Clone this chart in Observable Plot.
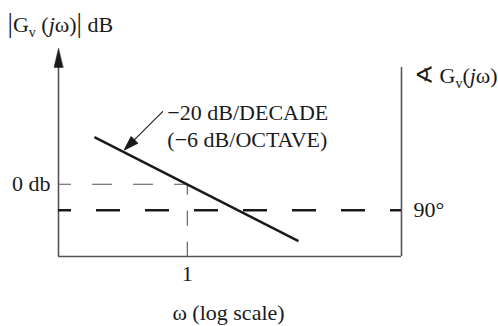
<!DOCTYPE html>
<html><head><meta charset="utf-8">
<script src="https://cdn.jsdelivr.net/npm/d3@7"></script>
<script src="https://cdn.jsdelivr.net/npm/@observablehq/plot@0.6"></script>
<style>html,body{margin:0;padding:0;background:#fff;}</style>
</head><body><div id="chart"></div>
<script>
// ---- data ----
const omegaDomain = [0.1, 46];          // ω extent of the frame (log scale)
const dbDomain = [-22, 41.4];           // |Gv| dB extent of the frame
const slopeOmega = [0.19, 7.3];         // asymptote end points, ω
const slopeDb = [14.4, -17.3];          // asymptote end points, dB
const cornerOmega = 1;                  // ω = 1 marker
const zeroDb = 0;                       // 0 db level
const phaseLineDeg = 90;                // phase line
const phaseDomain = [0, 90];            // phase (deg) placed on the dB extent
const phaseOnDb = [-22, -7.9];
const rightAxisTopDb = 35.6;
const leftAxisTopDb = 41.4;
const annotationTipOmega = 0.325;
const annotationTipDb = 10.5;
const annotationLines = ["\u221220 dB/DECADE", "(\u22126 dB/OCTAVE)"];
const annotationOmega = 0.70;
const annotationDb = [21.9, 13.4];
const xTickValues = [1];
const xTickLabels = ["1"];
const yTickLabel = "0 db";
const phaseTickLabel = "90\u00b0";
const xLabel = "\u03c9 (log scale)";
const magLabel = "|Gv (j\u03c9)| dB";
const phaseLabel = "\u2222 Gv(j\u03c9)";

const phaseToDb = d3.scaleLinear(phaseDomain, phaseOnDb);
const INK = "#1a1a1a";
const AXIS = "#555";

const triangle = {
  draw(ctx, l, r) {
    ctx.moveTo(0, -l);
    ctx.lineTo(-r, 0);
    ctx.lineTo(r, 0);
    ctx.closePath();
  }
};
const filledArrow = {
  draw(ctx, l, r) {
    const h = 14;
    ctx.moveTo(0, 0);
    ctx.lineTo(0, -l + h);
    ctx.moveTo(0, -l);
    ctx.lineTo(-r, -l + h);
    ctx.lineTo(r, -l + h);
    ctx.closePath();
  }
};

const chart = Plot.plot({
  width: 498,
  height: 326,
  marginLeft: 58,
  marginRight: 97,
  marginTop: 48,
  marginBottom: 70,
  style: {fontFamily: "'Liberation Serif', 'Times New Roman', serif", fontSize: "22px", color: INK, background: "#fff", overflow: "visible"},
  x: {type: "log", domain: omegaDomain, axis: null},
  y: {domain: dbDomain, axis: null},
  marks: [
    // axes
    Plot.ruleY([dbDomain[0]], {x1: omegaDomain[0], x2: omegaDomain[1], stroke: AXIS, strokeWidth: 1.6}),
    Plot.ruleX([omegaDomain[0]], {y1: dbDomain[0], y2: leftAxisTopDb - 4, stroke: AXIS, strokeWidth: 1.6}),
    Plot.ruleX([omegaDomain[1]], {y1: dbDomain[0], y2: rightAxisTopDb, stroke: AXIS, strokeWidth: 1.6}),
    Plot.vector([leftAxisTopDb], {x: omegaDomain[0], y: d => d, anchor: "end", length: 19, r: 4.5, rotate: 0, shape: triangle, fill: INK, stroke: INK, strokeWidth: 0.5}),
    // reference dashed lines
    Plot.ruleY([zeroDb], {x1: omegaDomain[0], x2: cornerOmega, stroke: AXIS, strokeWidth: 1.1, strokeDasharray: "20,21", strokeDashoffset: 7}),
    Plot.ruleX([cornerOmega], {y1: zeroDb, y2: dbDomain[0], stroke: AXIS, strokeWidth: 1.1, strokeDasharray: "15,16", strokeDashoffset: 4}),
    Plot.ruleY([phaseLineDeg], {y: d => phaseToDb(d), x1: omegaDomain[0], x2: omegaDomain[1], stroke: INK, strokeWidth: 2.6, strokeDasharray: "24,25", strokeDashoffset: 11}),
    // asymptote
    Plot.line(slopeOmega.map((w, i) => ({w, db: slopeDb[i]})), {x: "w", y: "db", stroke: INK, strokeWidth: 2.5, strokeLinecap: "butt"}),
    // annotation arrow
    Plot.vector([annotationTipDb], {x: annotationTipOmega, y: d => d, anchor: "end", length: 54, r: 4.5, rotate: 225, shape: filledArrow, fill: INK, stroke: INK, strokeWidth: 1.1}),
    Plot.text(annotationLines, {x: annotationOmega, y: (d, i) => annotationDb[i], text: d => d, textAnchor: "start", lineAnchor: "middle", fill: INK}),
    // tick labels
    Plot.text([zeroDb], {x: omegaDomain[0], y: d => d, text: () => yTickLabel, textAnchor: "end", lineAnchor: "middle", dx: -8, fill: INK}),
    Plot.text(xTickValues, {x: d => d, frameAnchor: "bottom", text: (d, i) => xTickLabels[i], lineAnchor: "middle", dy: 17, fill: INK}),
    Plot.text([phaseLineDeg], {x: omegaDomain[1], y: d => phaseToDb(d), text: () => phaseTickLabel, textAnchor: "start", lineAnchor: "middle", dx: 12, fill: INK}),
    // titles
    Plot.text([xLabel], {frameAnchor: "bottom", text: d => d, lineAnchor: "middle", dy: 56, dx: -1.5, fill: INK}),
    Plot.text([magLabel], {frameAnchor: "top-left", text: d => d, textAnchor: "start", lineAnchor: "middle", dx: -51, dy: -23.5, fill: INK}),
    Plot.text([phaseLabel], {frameAnchor: "top-right", text: d => d, textAnchor: "start", lineAnchor: "middle", dx: 12, dy: 27, fill: INK})
  ]
});
document.getElementById("chart").appendChild(chart);

// subscripts and italics in the two axis titles
function rich(el, parts) {
  el.textContent = "";
  for (const p of parts) {
    const t = document.createElementNS("http://www.w3.org/2000/svg", "tspan");
    t.textContent = p.t;
    if (p.size) t.setAttribute("font-size", p.size);
    if (p.dy) t.setAttribute("dy", p.dy);
    if (p.italic) t.setAttribute("font-style", "italic");
    el.appendChild(t);
  }
}
chart.querySelectorAll("text").forEach(el => {
  if (el.textContent === magLabel) {
    rich(el, [
      {t: "|", size: 27}, {t: "G"}, {t: "v", size: 14, dy: 5},
      {t: " (", dy: -5}, {t: "j", italic: true}, {t: "\u03c9)"},
      {t: "|", size: 27}, {t: " dB"}
    ]);
  } else if (el.textContent === phaseLabel) {
    rich(el, [
      {t: "\u2222 ", size: 24}, {t: "G"}, {t: "v", size: 14, dy: 5},
      {t: "(", dy: -5}, {t: "j", italic: true}, {t: "\u03c9)"}
    ]);
  }
});
</script>
</body></html>
